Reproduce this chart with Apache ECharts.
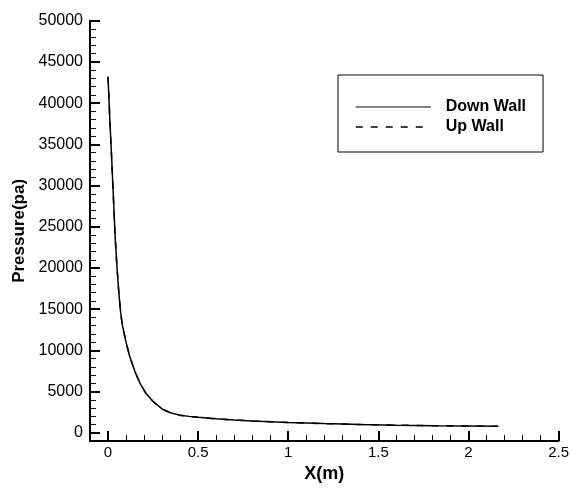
<!DOCTYPE html>
<html>
<head>
<meta charset="utf-8">
<script src="https://cdn.jsdelivr.net/npm/echarts@6/dist/echarts.min.js"></script>
<style>
html,body{margin:0;padding:0;background:#fff;}
#chart{width:572px;height:488px;}
</style>
</head>
<body>
<div id="chart"></div>
<script>
// Data
const xPos = [0, 0.01, 0.02, 0.03, 0.04, 0.05, 0.06, 0.07, 0.08, 0.10, 0.12, 0.15, 0.18, 0.21, 0.25, 0.30, 0.35, 0.40, 0.45, 0.50, 0.6, 0.7, 0.8, 0.9, 1.0, 1.2, 1.4, 1.6, 1.8, 2.0, 2.165];
const downWall = [43200, 38000, 33400, 28500, 23600, 20000, 17000, 14600, 13000, 11000, 9300, 7400, 5900, 4800, 3800, 2900, 2400, 2150, 2000, 1880, 1700, 1560, 1450, 1350, 1260, 1120, 1010, 930, 870, 830, 800];
const upWall = [43200, 38000, 33400, 28500, 23600, 20000, 17000, 14600, 13000, 11000, 9300, 7400, 5900, 4800, 3800, 2900, 2400, 2150, 2000, 1880, 1700, 1560, 1450, 1350, 1260, 1120, 1010, 930, 870, 830, 800];
const xMajorTicks = [0, 0.5, 1, 1.5, 2, 2.5];
const xMinorTicks = [0.1, 0.2, 0.3, 0.4, 0.6, 0.7, 0.8, 0.9, 1.1, 1.2, 1.3, 1.4, 1.6, 1.7, 1.8, 1.9, 2.1, 2.2, 2.3, 2.4];
const yMajorTicks = [0, 5000, 10000, 15000, 20000, 25000, 30000, 35000, 40000, 45000, 50000];
const yMinorTicks = [];
for (let v = 1000; v < 50000; v += 1000) { if (v % 5000 !== 0) yMinorTicks.push(v); }

const FONT = "'Liberation Sans', Arial, sans-serif";
const chart = echarts.init(document.getElementById('chart'), null, {renderer: 'canvas'});

const xBase = {
  type: 'value', min: -0.1, max: 2.5, position: 'bottom', splitLine: {show: false}
};
const yBase = {
  type: 'value', min: -1000, max: 50000, position: 'left', splitLine: {show: false}
};

chart.setOption({
  backgroundColor: '#fff',
  animation: false,
  textStyle: {fontFamily: FONT, color: '#000'},
  grid: {left: 90, right: 11, top: 20.7, bottom: 37.3, containLabel: false},
  legend: {
    left: 338, top: 75, orient: 'vertical',
    padding: [24, 17, 17, 17],
    itemWidth: 75, itemHeight: 16, itemGap: 4,
    borderColor: '#000', borderWidth: 1, backgroundColor: '#fff',
    textStyle: {fontFamily: FONT, fontSize: 16, fontWeight: 'bold', color: '#000', padding: [0, 0, 0, 10]},
    itemStyle: {opacity: 0},
    lineStyle: {width: 1.2},
    data: [
      {name: 'Down Wall', lineStyle: {type: 'solid', width: 1}},
      {name: 'Up Wall', lineStyle: {type: [7, 8], width: 1.5}}
    ]
  },
  xAxis: [
    Object.assign({}, xBase, {
      name: 'X(m)', nameLocation: 'middle', nameGap: 19,
      nameTextStyle: {fontFamily: FONT, fontSize: 18, fontWeight: 'bold', color: '#000'},
      axisLine: {show: true, onZero: false, lineStyle: {color: '#000', width: 2}},
      axisTick: {show: true, inside: true, length: 10, lineStyle: {color: '#000', width: 2}, customValues: xMajorTicks},
      axisLabel: {show: true, margin: 4, fontFamily: FONT, fontSize: 15, color: '#000', customValues: xMajorTicks,
        formatter: function (v) { return String(v); }}
    }),
    Object.assign({}, xBase, {
      axisLine: {show: false, onZero: false},
      axisTick: {show: true, inside: true, length: 6, lineStyle: {color: '#000', width: 1}, customValues: xMinorTicks},
      axisLabel: {show: false}
    })
  ],
  yAxis: [
    Object.assign({}, yBase, {
      name: 'Pressure(pa)', nameLocation: 'middle', nameGap: 58,
      nameTextStyle: {fontFamily: FONT, fontSize: 17, fontWeight: 'bold', color: '#000'},
      axisLine: {show: true, onZero: false, lineStyle: {color: '#000', width: 2}},
      axisTick: {show: true, inside: true, length: 10, lineStyle: {color: '#000', width: 2}, customValues: yMajorTicks},
      axisLabel: {show: true, margin: 7, fontFamily: FONT, fontSize: 16, color: '#000', customValues: yMajorTicks,
        formatter: function (v) { return String(v); }}
    }),
    Object.assign({}, yBase, {
      axisLine: {show: false, onZero: false},
      axisTick: {show: true, inside: true, length: 6, lineStyle: {color: '#000', width: 1}, customValues: yMinorTicks},
      axisLabel: {show: false}
    })
  ],
  series: [
    {
      name: 'Down Wall', type: 'line', xAxisIndex: 0, yAxisIndex: 0,
      symbol: 'none', smooth: false,
      lineStyle: {color: '#000', width: 1.5, type: 'solid'},
      itemStyle: {color: '#000'},
      data: xPos.map((x, i) => [x, downWall[i]])
    },
    {
      name: 'Up Wall', type: 'line', xAxisIndex: 0, yAxisIndex: 0,
      symbol: 'none', smooth: false,
      lineStyle: {color: '#000', width: 1.5, type: [7, 8]},
      itemStyle: {color: '#000'},
      data: xPos.map((x, i) => [x, upWall[i]])
    }
  ]
});
</script>
</body>
</html>
